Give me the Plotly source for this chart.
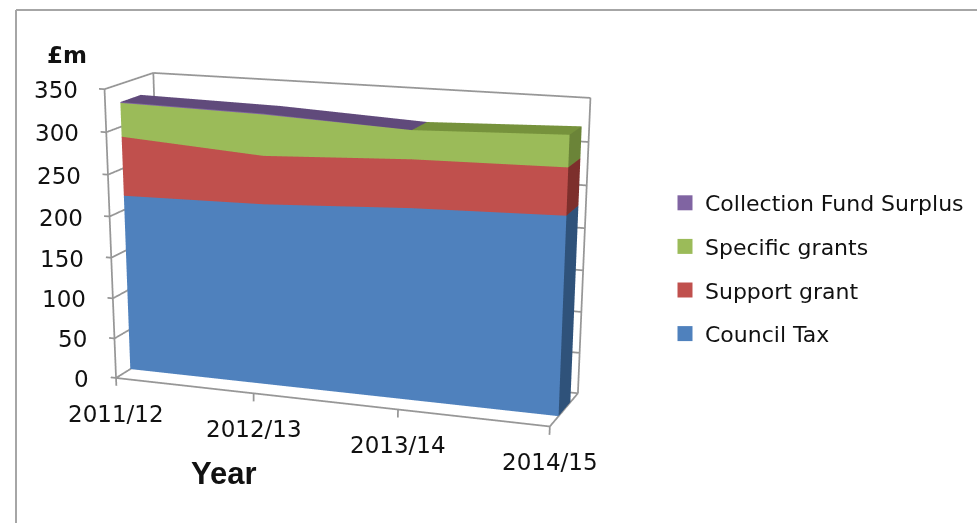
import plotly.graph_objects as go

# ── Data ──────────────────────────────────────────────────────────────────
YEARS = ["2011/12", "2012/13", "2013/14", "2014/15"]
COUNCIL_TAX = [217, 220, 229, 234]
SUPPORT_GRANT = [71, 57, 56, 54]
SPECIFIC_GRANTS = [40, 48, 33, 36]
SURPLUS = [1, 1, 0, 0]
Z_TICKS = [0, 50, 100, 150, 200, 250, 300, 350]

# ── Style ─────────────────────────────────────────────────────────────────
LAYERS = [
    ("Council Tax", COUNCIL_TAX, "#4F81BD", "#3A6390", "#2F527A"),
    ("Support grant", SUPPORT_GRANT, "#C0504D", "#963E3B", "#7D2F2C"),
    ("Specific grants", SPECIFIC_GRANTS, "#9BBB59", "#76923C", "#6B8438"),
    ("Collection Fund Surplus", SURPLUS, "#8064A2", "#604A7B", "#54406C"),
]
GRID = "#979797"
TICK_FONT = dict(family="DejaVu Sans", size=23, color="#111111")
Y_FRONT, Y_BACK = 0.3, 0.72
FLAT = dict(ambient=1, diffuse=0, specular=0, roughness=1, fresnel=0)

# plotly's 3d camera has a fixed 45 degree field of view, so the long lens of
# the original needs a scene much taller than the window, slid up behind it
FIG_H, FIG_TOP = 1664, -351


def px_x(p):
    return p / 977


def px_y(p):
    return 1 - (p - FIG_TOP) / FIG_H


def strip(a, b, color):
    # a and b are matching lists of (x, y, z); fills the band between them
    pts = a + b
    n = len(a)
    i, j, k = [], [], []
    for s in range(n - 1):
        i += [s, s + 1]
        j += [s + 1, n + s + 1]
        k += [n + s, n + s]
    return go.Mesh3d(x=[p[0] for p in pts], y=[p[1] for p in pts], z=[p[2] for p in pts],
                     i=i, j=j, k=k, color=color, flatshading=True, lighting=FLAT,
                     hoverinfo="skip", showlegend=False, showscale=False)


def line(xs, ys, zs):
    return go.Scatter3d(x=xs, y=ys, z=zs, mode="lines", line=dict(color=GRID, width=3.5),
                        hoverinfo="skip", showlegend=False)


fig = go.Figure()
xs = list(range(len(YEARS)))
last = xs[-1]

# walls, floor and ticks sit behind the areas
for t in Z_TICKS:
    fig.add_trace(line([-0.04, 0, 0, last], [0, 0, 1, 1], [t, t, t, t]))
fig.add_trace(line([0, 0], [0, 0], [0, 350]))
fig.add_trace(line([0, 0], [1, 1], [0, 350]))
fig.add_trace(line([last, last], [1, 1], [0, 350]))
fig.add_trace(line([0, last, last, 0, 0], [0, 0, 1, 1, 0], [0, 0, 0, 0, 0]))
for x in xs:
    fig.add_trace(line([x, x], [0, 0], [0, -10]))

# stacked areas
base = [0] * len(xs)
for name, values, front, top, side in LAYERS:
    upper = [b + v for b, v in zip(base, values)]
    # a layer of zero thickness is not drawn, it would fight with the one below
    seg = [i for i in xs if values[i] > 0 or (i > 0 and values[i - 1] > 0)]
    fig.add_trace(strip([(i, Y_FRONT, base[i]) for i in seg],
                        [(i, Y_FRONT, upper[i]) for i in seg], front))
    fig.add_trace(strip([(i, Y_FRONT, upper[i]) for i in seg],
                        [(i, Y_BACK, upper[i]) for i in seg], top))
    if values[-1] > 0:
        fig.add_trace(strip([(last, Y_FRONT, base[-1]), (last, Y_BACK, base[-1])],
                            [(last, Y_FRONT, upper[-1]), (last, Y_BACK, upper[-1])], side))
    base = upper

# legend comes from empty 2d traces, mesh3d has no square swatch
for name, values, front, top, side in reversed(LAYERS):
    fig.add_trace(go.Scatter(x=[None], y=[None], mode="markers", name=name, legendgroup=name,
                             marker=dict(symbol="square", size=15, color=front)))

notes = [dict(x=0, y=0, z=t, text=str(t), showarrow=False, xanchor="right", xshift=-25, yshift=-1,
              font=TICK_FONT) for t in Z_TICKS]
notes += [dict(x=x, y=0, z=0, text=YEARS[x], showarrow=False, yanchor="top", yshift=-21,
               font=TICK_FONT) for x in xs]

# ranges reach past the box so the tick stubs and edge faces are not clipped
axis = dict(visible=False, showspikes=False)
fig.update_layout(
    width=977, height=FIG_H,
    margin=dict(l=0, r=0, t=0, b=0),
    paper_bgcolor="white", plot_bgcolor="rgba(0,0,0,0)",
    xaxis=dict(visible=False), yaxis=dict(visible=False),
    scene=dict(
        domain=dict(x=[0, px_x(680)], y=[0, 1]),
        xaxis=dict(range=[-0.04, last + 0.002], **axis),
        yaxis=dict(range=[-0.002, 1.002], **axis),
        zaxis=dict(range=[-10, 352], **axis),
        aspectmode="manual", aspectratio=dict(x=1.5758, y=0.3815, z=1.0343),
        camera=dict(eye=dict(x=2.269, y=-6.2145, z=1.568), center=dict(x=0.008, y=-0.037, z=-0.826),
                    up=dict(x=0, y=0, z=1)),
        annotations=notes,
    ),
    legend=dict(x=px_x(665), y=px_y(182), xanchor="left", yanchor="top",
                tracegroupgap=12, font=dict(family="DejaVu Sans", size=22, color="#111111"),
                bgcolor="rgba(0,0,0,0)"),
    annotations=[
        dict(x=px_x(67), y=px_y(55), xref="paper", yref="paper", text="<b>£m</b>", showarrow=False,
             xanchor="center", yanchor="middle",
             font=dict(family="DejaVu Sans", size=23, color="#111111")),
        dict(x=px_x(224), y=px_y(474), xref="paper", yref="paper", text="<b>Year</b>", showarrow=False,
             xanchor="center", yanchor="middle",
             font=dict(family="Liberation Sans", size=31, color="#111111")),
    ],
    shapes=[
        dict(type="line", xref="paper", yref="paper", x0=px_x(16), x1=px_x(16), y0=px_y(523), y1=px_y(10),
             line=dict(color="#A6A6A6", width=2)),
        dict(type="line", xref="paper", yref="paper", x0=px_x(16), x1=1, y0=px_y(10), y1=px_y(10),
             line=dict(color="#A6A6A6", width=2)),
    ],
)

slide = (f"document.body.style.margin='{FIG_TOP}px 0 0 0';"
         "document.documentElement.style.overflow='hidden';")
fig.write_html("out.html", post_script=slide)
